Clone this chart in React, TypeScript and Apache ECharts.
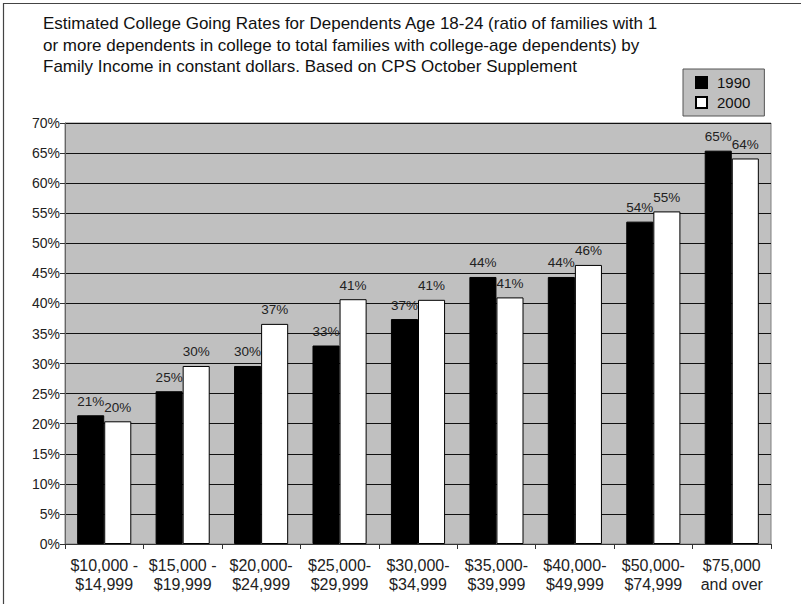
import React, { useEffect, useRef } from "react";
import * as echarts from "echarts";

const categories = [
  "$10,000 -\n$14,999",
  "$15,000 -\n$19,999",
  "$20,000-\n$24,999",
  "$25,000-\n$29,999",
  "$30,000-\n$34,999",
  "$35,000-\n$39,999",
  "$40,000-\n$49,999",
  "$50,000-\n$74,999",
  "$75,000\nand over",
];
const rates1990 = [21.4, 25.4, 29.6, 33.0, 37.4, 44.4, 44.4, 53.6, 65.4];
const rates2000 = [20.4, 29.6, 36.6, 40.7, 40.6, 41.0, 46.4, 55.3, 64.1];
const yTicks = { min: 0, max: 70, interval: 5 };
const titleLines = [
  "Estimated College Going Rates for Dependents Age 18-24 (ratio of families with 1",
  "or more dependents in college to total families with college-age dependents) by",
  "Family Income in constant dollars. Based on CPS October Supplement",
];

export default function App() {
  const ref = useRef<HTMLDivElement>(null);
  useEffect(() => {
    const chart = echarts.init(ref.current!, null, { renderer: "svg" });
    const font = "Liberation Sans, Arial, sans-serif";
    const label = {
      show: true,
      position: "top",
      distance: 7,
      fontFamily: font,
      fontSize: 13.5,
      color: "#222",
      formatter: (p: any) => Math.round(p.value) + "%",
    };
    chart.setOption({
      animation: false,
      backgroundColor: "#fff",
      textStyle: { fontFamily: font },
      title: {
        text: titleLines.join("\n"),
        left: 38,
        top: 8,
        textStyle: {
          fontFamily: font,
          fontSize: 17,
          fontWeight: "normal",
          color: "#111",
          lineHeight: 21.5,
        },
      },
      graphic: [
        {
          type: "rect",
          shape: { x: 3.5, y: 3.5, width: 900, height: 800 },
          style: { fill: "none", stroke: "#444", lineWidth: 1.2 },
          silent: true,
        },
      ],
      legend: {
        orient: "vertical",
        left: 683,
        top: 69,
        width: 86,
        height: 47,
        padding: [6, 14, 6, 12],
        backgroundColor: "#C0C0C0",
        borderColor: "#555",
        borderWidth: 1,
        itemWidth: 11,
        itemHeight: 11,
        itemGap: 5,
        icon: "rect",
        textStyle: { fontFamily: font, fontSize: 15, color: "#111", padding: [0, 0, 0, 5] },
        data: ["1990", "2000"],
      },
      grid: {
        left: 65,
        top: 123,
        width: 706,
        height: 421,
        show: true,
        backgroundColor: "#C0C0C0",
        borderColor: "#808080",
        borderWidth: 1,
        containLabel: false,
      },
      xAxis: {
        type: "category",
        data: categories,
        axisLine: { show: true, lineStyle: { color: "#333" } },
        axisTick: { show: true, length: 5, lineStyle: { color: "#333" } },
        axisLabel: {
          fontFamily: font,
          fontSize: 16,
          color: "#222",
          lineHeight: 19,
          margin: 12,
          interval: 0,
        },
      },
      yAxis: {
        type: "value",
        min: yTicks.min,
        max: yTicks.max,
        interval: yTicks.interval,
        axisLine: { show: true, lineStyle: { color: "#666" } },
        axisTick: { show: true, length: 5, lineStyle: { color: "#333" } },
        axisLabel: {
          fontFamily: font,
          fontSize: 14,
          color: "#222",
          margin: 5,
          formatter: "{value}%",
        },
        splitLine: { show: true, lineStyle: { color: "#111", width: 1 } },
      },
      series: [
        {
          name: "1990",
          type: "bar",
          data: rates1990,
          barGap: "0%",
          barCategoryGap: "31%",
          itemStyle: { color: "#000", borderColor: "#000", borderWidth: 1 },
          label,
        },
        {
          name: "2000",
          type: "bar",
          data: rates2000,
          itemStyle: { color: "#fff", borderColor: "#000", borderWidth: 1 },
          label,
        },
      ],
    });
    return () => chart.dispose();
  }, []);
  return (
    <div
      ref={ref}
      style={{ position: "absolute", left: 0, top: 0, width: 801, height: 604 }}
    />
  );
}
